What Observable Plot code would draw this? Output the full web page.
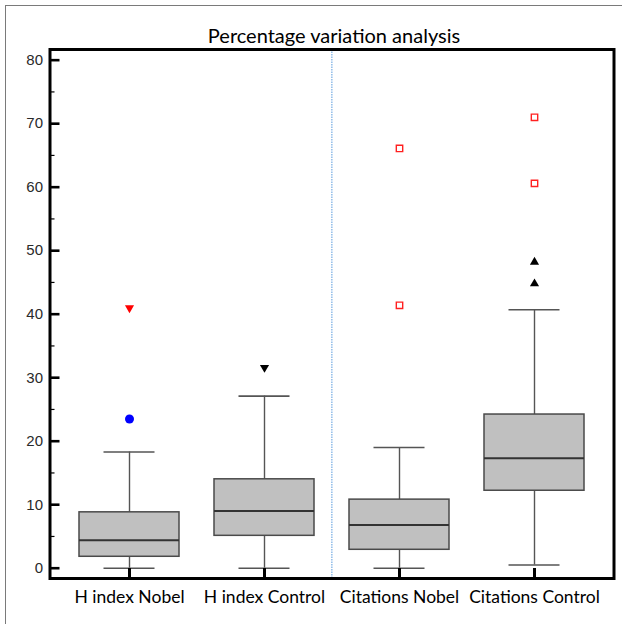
<!DOCTYPE html>
<html>
<head>
<meta charset="utf-8">
<script src="https://cdn.jsdelivr.net/npm/d3@7"></script>
<script src="https://cdn.jsdelivr.net/npm/@observablehq/plot@0.6"></script>
<style>
  html, body { margin: 0; padding: 0; background: #fff; }
  #wrap { position: relative; width: 622px; height: 624px; overflow: hidden; }
  #border { position: absolute; left: 5px; top: 5px; width: 800px; height: 800px;
            border-left: 1.5px solid #7a7a7a; border-top: 1.5px solid #7a7a7a; pointer-events: none; }
  #title { position: absolute; left: 0; top: 23px; width: 668px; text-align: center;
           font-family: Lato, "Open Sans", sans-serif; font-size: 20px; color: #000; }
  #chart { position: absolute; left: 0; top: 0; }
</style>
</head>
<body>
<div id="wrap">
  <div id="chart"></div>
  <div id="border"></div>
  <div id="title">Percentage variation analysis</div>
</div>
<script>
// ---- data ----
const categories = ["H index Nobel", "H index Control", "Citations Nobel", "Citations Control"];
const q1          = [1.8, 5.1, 2.9, 12.2];
const median      = [4.4, 9.0, 6.8, 17.3];
const q3          = [8.8, 14.0, 10.8, 24.2];
const whiskerLow  = [0, 0, 0, 0.5];
const whiskerHigh = [18.3, 27.1, 19.0, 40.7];

const yTicks      = [0, 10, 20, 30, 40, 50, 60, 70, 80];
const yMinorTicks = [5, 15, 25, 35, 45, 55, 65, 75];

// outliers by marker type
const outlierCircle    = [{category: "H index Nobel", value: 23.5}];
const outlierRedDown   = [{category: "H index Nobel", value: 41.0}];
const outlierBlackDown = [{category: "H index Control", value: 31.6}];
const outlierBlackUp   = [{category: "Citations Control", value: 44.8},
                          {category: "Citations Control", value: 48.2}];
const outlierSquare    = [{category: "Citations Nobel", value: 41.4},
                          {category: "Citations Nobel", value: 66.1},
                          {category: "Citations Control", value: 60.6},
                          {category: "Citations Control", value: 71.0}];

const boxes = categories.map((c, i) => ({
  category: c, q1: q1[i], median: median[i], q3: q3[i],
  lo: whiskerLow[i], hi: whiskerHigh[i]
}));

// ---- layout ----
const W = 622, H = 624;
const mL = 49.5, mR = 8.5, mT = 49, mB = 46;
const innerW = W - mL - mR, innerH = H - mT - mB;
const capInset = 24.5;

const chart = Plot.plot({
  width: W, height: H,
  marginLeft: mL, marginRight: mR, marginTop: mT, marginBottom: mB,
  x: {type: "band", domain: categories, paddingInner: 0.257, paddingOuter: 0.2125},
  y: {domain: [-1.62, 81.68]},
  style: {background: "transparent"},
  marks: [
    // divider
    Plot.ruleX(["Citations Nobel"], {x: d => d, dx: -67.65, stroke: "#7fb2e5", strokeWidth: 1.3, strokeDasharray: "1.5,1"}),
    // whiskers
    Plot.ruleX(boxes, {x: "category", y1: "q3", y2: "hi", stroke: "#555", strokeWidth: 1.4}),
    Plot.ruleX(boxes, {x: "category", y1: "lo", y2: "q1", stroke: "#555", strokeWidth: 1.4}),
    Plot.tickY(boxes, {x: "category", y: "hi", stroke: "#555", strokeWidth: 1.6, insetLeft: capInset, insetRight: capInset}),
    Plot.tickY(boxes, {x: "category", y: "lo", stroke: "#555", strokeWidth: 1.6, insetLeft: capInset, insetRight: capInset}),
    // boxes
    Plot.barY(boxes, {x: "category", y1: "q1", y2: "q3", fill: "#c0c0c0", stroke: "#4a4a4a", strokeWidth: 1.5}),
    Plot.tickY(boxes, {x: "category", y: "median", stroke: "#333", strokeWidth: 2}),
    // outliers
    Plot.dot(outlierCircle, {x: "category", y: "value", symbol: "circle", r: 4.5, fill: "#0000ff"}),
    Plot.dot(outlierRedDown, {x: "category", y: "value", symbol: "triangle", r: 3.4, rotate: 180, fill: "#ff0000"}),
    Plot.dot(outlierBlackDown, {x: "category", y: "value", symbol: "triangle", r: 3.4, rotate: 180, fill: "#000"}),
    Plot.dot(outlierBlackUp, {x: "category", y: "value", symbol: "triangle", r: 3.4, fill: "#000"}),
    Plot.dot(outlierSquare, {x: "category", y: "value", symbol: "square", r: 3.6, fill: "none", stroke: "#ff2020", strokeWidth: 1.4}),
    // inward ticks
    Plot.tickY(yTicks, {y: d => d, stroke: "#000", strokeWidth: 2.6, insetRight: innerW - 10}),
    Plot.tickY(yMinorTicks, {y: d => d, stroke: "#000", strokeWidth: 1.2, insetRight: innerW - 5}),
    Plot.tickX(categories, {x: d => d, stroke: "#000", strokeWidth: 3, insetTop: innerH - 10}),
    // axes
    Plot.axisY(yTicks, {tickSize: 0, tickPadding: 7, fontSize: 15, fill: "#2a2a2a",
      fontFamily: "'Liberation Sans', Arial, sans-serif", label: null}),
    Plot.axisX({tickSize: 0, tickPadding: 12, fontSize: 17.5, fill: "#000",
      fontFamily: "Lato, 'Open Sans', sans-serif", label: null}),
    Plot.frame({stroke: "#000", strokeWidth: 3})
  ]
});
document.getElementById("chart").appendChild(chart);
</script>
</body>
</html>
